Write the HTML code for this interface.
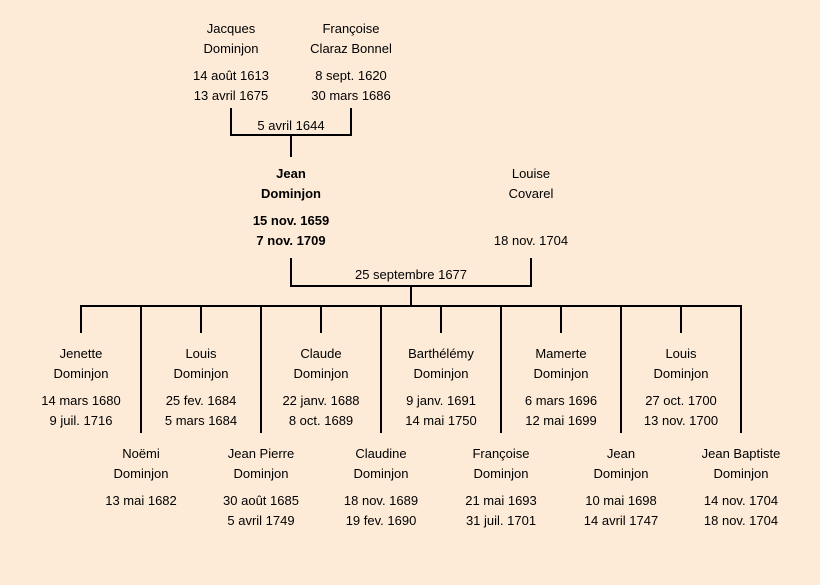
<!DOCTYPE html>
<html><head><meta charset="utf-8"><style>
html,body{margin:0;padding:0;background:#fdebd8;}
svg{display:block;}
text{font-family:"Comic Sans MS","Liberation Sans",sans-serif;font-size:13px;fill:#000;text-anchor:middle;}
.b{font-weight:bold;}
</style></head><body>
<svg width="820" height="585" viewBox="0 0 820 585" xmlns="http://www.w3.org/2000/svg">
<rect width="820" height="585" fill="#fdebd8"/>
<g stroke="#000" stroke-width="2" fill="none">
<path d="M231 108V136M351 108V136M230 135H352M291 135V157"/>
<path d="M291 258V287M531 258V287M290 286H532M411 286V306"/>
<path d="M80 306H742"/>
<path d="M81 305V333M201 305V333M321 305V333M441 305V333M561 305V333M681 305V333"/>
<path d="M141 305V433M261 305V433M381 305V433M501 305V433M621 305V433M741 305V433"/>
</g>
<text x="231" y="33">Jacques</text><text x="231" y="53">Dominjon</text>
<text x="231" y="80">14 août 1613</text><text x="231" y="100">13 avril 1675</text>
<text x="351" y="33">Françoise</text><text x="351" y="53">Claraz Bonnel</text>
<text x="351" y="80">8 sept. 1620</text><text x="351" y="100">30 mars 1686</text>
<text x="291" y="130">5 avril 1644</text>

<text class="b" x="291" y="178">Jean</text><text class="b" x="291" y="198">Dominjon</text>
<text class="b" x="291" y="225">15 nov. 1659</text><text class="b" x="291" y="245">7 nov. 1709</text>
<text x="531" y="178">Louise</text><text x="531" y="198">Covarel</text>
<text x="531" y="245">18 nov. 1704</text>
<text x="411" y="279">25 septembre 1677</text>

<text x="81" y="358">Jenette</text><text x="81" y="378">Dominjon</text>
<text x="81" y="405">14 mars 1680</text><text x="81" y="425">9 juil. 1716</text>
<text x="201" y="358">Louis</text><text x="201" y="378">Dominjon</text>
<text x="201" y="405">25 fev. 1684</text><text x="201" y="425">5 mars 1684</text>
<text x="321" y="358">Claude</text><text x="321" y="378">Dominjon</text>
<text x="321" y="405">22 janv. 1688</text><text x="321" y="425">8 oct. 1689</text>
<text x="441" y="358">Barthélémy</text><text x="441" y="378">Dominjon</text>
<text x="441" y="405">9 janv. 1691</text><text x="441" y="425">14 mai 1750</text>
<text x="561" y="358">Mamerte</text><text x="561" y="378">Dominjon</text>
<text x="561" y="405">6 mars 1696</text><text x="561" y="425">12 mai 1699</text>
<text x="681" y="358">Louis</text><text x="681" y="378">Dominjon</text>
<text x="681" y="405">27 oct. 1700</text><text x="681" y="425">13 nov. 1700</text>

<text x="141" y="458">Noëmi</text><text x="141" y="478">Dominjon</text>
<text x="141" y="505">13 mai 1682</text>
<text x="261" y="458">Jean Pierre</text><text x="261" y="478">Dominjon</text>
<text x="261" y="505">30 août 1685</text><text x="261" y="525">5 avril 1749</text>
<text x="381" y="458">Claudine</text><text x="381" y="478">Dominjon</text>
<text x="381" y="505">18 nov. 1689</text><text x="381" y="525">19 fev. 1690</text>
<text x="501" y="458">Françoise</text><text x="501" y="478">Dominjon</text>
<text x="501" y="505">21 mai 1693</text><text x="501" y="525">31 juil. 1701</text>
<text x="621" y="458">Jean</text><text x="621" y="478">Dominjon</text>
<text x="621" y="505">10 mai 1698</text><text x="621" y="525">14 avril 1747</text>
<text x="741" y="458">Jean Baptiste</text><text x="741" y="478">Dominjon</text>
<text x="741" y="505">14 nov. 1704</text><text x="741" y="525">18 nov. 1704</text>
</svg>
</body></html>
